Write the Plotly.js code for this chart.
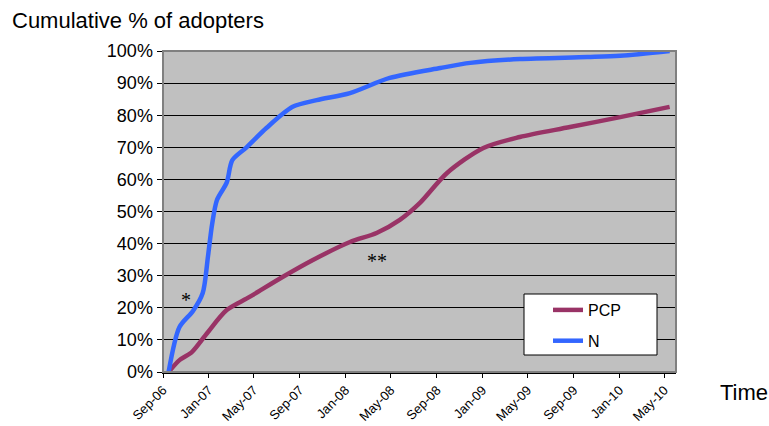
<!DOCTYPE html>
<html>
<head>
<meta charset="utf-8">
<script src="https://cdn.plot.ly/plotly-3.0.1.min.js"></script>
<style>html,body{margin:0;padding:0;background:#fff;}#chart{width:769px;height:426px;}</style>
</head>
<body>
<div id="chart"></div>
<script>
// N series (cumulative share of adopters)
const nDates = ['2006-09-16','2006-10-15','2006-11-20','2006-12-16','2006-12-30','2007-01-10','2007-01-23','2007-02-18','2007-03-05','2007-04-12','2007-06-04','2007-08-13','2007-10-16','2008-01-13','2008-04-28','2008-09-10','2008-11-29','2009-04-10','2009-10-07','2010-01-03','2010-05-15'];
const nValues = [0.00,0.14,0.19,0.246,0.36,0.46,0.536,0.59,0.66,0.70,0.76,0.826,0.847,0.869,0.916,0.947,0.963,0.975,0.981,0.985,1.00];
// PCP series
const pcpDates = ['2006-09-16','2006-10-15','2006-11-17','2006-12-27','2007-02-18','2007-04-20','2007-07-17','2007-10-06','2008-01-13','2008-03-24','2008-05-25','2008-07-17','2008-09-28','2009-01-03','2009-04-10','2009-08-22','2010-01-03','2010-05-15'];
const pcpValues = [0.00,0.037,0.062,0.12,0.193,0.234,0.296,0.349,0.405,0.433,0.474,0.526,0.62,0.698,0.732,0.763,0.794,0.826];
const seriesNames = ['PCP','N'];
const yTicks = [0,0.1,0.2,0.3,0.4,0.5,0.6,0.7,0.8,0.9,1.0];

const font = 'Liberation Sans, Arial, sans-serif';
const serif = 'Liberation Serif, Times New Roman, serif';
const traces = [
  {x: pcpDates, y: pcpValues, name: seriesNames[0], legendgroup: 'a', mode: 'lines', type: 'scatter',
   line: {color: '#993366', width: 4.5, shape: 'spline', smoothing: 0.8}},
  {x: nDates, y: nValues, name: seriesNames[1], legendgroup: 'b', mode: 'lines', type: 'scatter',
   line: {color: '#3366FF', width: 4.5, shape: 'spline', smoothing: 0.8}}
];
const px = v => (v - 163) / 513;   // helpers for paper placement
const py = v => (372 - v) / 321;
const layout = {
  width: 769, height: 426,
  margin: {l: 163, r: 93, t: 51, b: 54},
  paper_bgcolor: '#ffffff',
  plot_bgcolor: '#C0C0C0',
  font: {family: font, color: '#000', size: 14},
  title: {text: 'Cumulative % of adopters', x: 12/769, xanchor: 'left', xref: 'container',
          y: 1 - 20/426, yref: 'container', yanchor: 'middle', font: {family: font, size: 22, color: '#000'}},
  xaxis: {type: 'date', range: ['2006-09-01','2010-06-01'], tick0: '2006-09-01', dtick: 'M4',
          tickformat: '%b-%y', tickangle: -45, ticks: 'outside', ticklen: 4, tickcolor: '#000',
          showgrid: false, zeroline: false, showline: true, linecolor: '#000', linewidth: 1.5,
          tickfont: {family: font, size: 13, color: '#000'}, fixedrange: true},
  yaxis: {range: [0, 1], tickvals: yTicks, tickformat: '.0%', ticks: 'outside', ticklen: 5,
          tickcolor: '#000', showgrid: true, gridcolor: '#000', gridwidth: 1, zeroline: false,
          showline: true, linecolor: '#000', linewidth: 1.5,
          tickfont: {family: font, size: 18, color: '#000'}, fixedrange: true},
  showlegend: true,
  legend: {x: px(548), y: py(293), xanchor: 'left', yanchor: 'top',
           bgcolor: 'rgba(0,0,0,0)', borderwidth: 0,
           font: {family: font, size: 16, color: '#000'}, tracegroupgap: 7},
  shapes: [
    {type: 'rect', xref: 'paper', yref: 'paper', x0: 0, x1: 1, y0: 0, y1: 1,
     line: {color: '#808080', width: 2}, fillcolor: 'rgba(0,0,0,0)', layer: 'above'},
    {type: 'rect', xref: 'paper', yref: 'paper', x0: px(524), x1: px(657), y0: py(355), y1: py(294),
     line: {color: '#000', width: 1}, fillcolor: '#ffffff', layer: 'above'}
  ],
  annotations: [
    {x: '2006-11-01', y: 0.224, xref: 'x', yref: 'y', text: '*', showarrow: false,
     font: {family: serif, size: 20, color: '#000'}},
    {x: '2008-03-24', y: 0.345, xref: 'x', yref: 'y', text: '**', showarrow: false,
     font: {family: serif, size: 20, color: '#000'}},
    {x: px(718), y: py(392), xref: 'paper', yref: 'paper', text: 'Time', showarrow: false,
     xanchor: 'left', yanchor: 'middle', font: {family: font, size: 22, color: '#000'}}
  ]
};
Plotly.newPlot('chart', traces, layout, {displayModeBar: false, staticPlot: true});
</script>
</body>
</html>
